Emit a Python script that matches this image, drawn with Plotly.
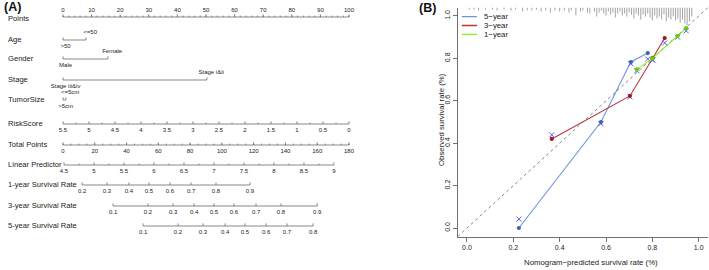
import plotly.graph_objects as go

# ---------------- Panel A : nomogram data ----------------
points_ticks = [0, 10, 20, 30, 40, 50, 60, 70, 80, 90, 100]
points_minor = list(range(0, 101, 2))

age_labels = ["<=50", ">50"]
age_points = [8.0, 0.0]
gender_labels = ["Female", "Male"]
gender_points = [15.7, 0.0]
stage_labels = ["Stage i&ii", "Stage iii&iv"]
stage_points = [50.3, 0.0]
tumor_labels = ["<=5cm", ">5cm"]
tumor_points = [1.0, 0.0]

risk_ticks = [5.5, 5, 4.5, 4, 3.5, 3, 2.5, 2, 1.5, 1, 0.5, 0]
risk_max = 5.5

total_ticks = [0, 20, 40, 60, 80, 100, 120, 140, 160, 180]
total_max = 180

lp_ticks = [4.5, 5, 5.5, 6, 6.5, 7, 7.5, 8, 8.5, 9]
lp_at_zero_total = 4.483
total_per_lp = 37.75

surv1_labels = [0.2, 0.3, 0.4, 0.5, 0.6, 0.7, 0.8, 0.9]
surv1_total = [12.0, 27.7, 41.5, 54.1, 67.3, 80.6, 96.3, 117.7]
surv3_labels = [0.1, 0.2, 0.3, 0.4, 0.5, 0.6, 0.7, 0.8, 0.9]
surv3_total = [31.5, 53.5, 69.3, 82.5, 95.0, 107.6, 121.5, 137.2, 160.0]
surv5_labels = [0.1, 0.2, 0.3, 0.4, 0.5, 0.6, 0.7, 0.8]
surv5_total = [50.4, 72.4, 88.1, 102.0, 114.5, 127.8, 141.0, 157.4]

# ---------------- Panel B : calibration data ----------------
pred_5y = [0.224, 0.578, 0.707, 0.780]
obs_5y = [0.000, 0.500, 0.783, 0.825]
corr_5y = [0.042, 0.492, 0.775, 0.797]
pred_3y = [0.366, 0.703, 0.802, 0.853]
obs_3y = [0.420, 0.623, 0.802, 0.896]
corr_3y = [0.439, 0.618, 0.793, 0.873]
pred_1y = [0.733, 0.800, 0.909, 0.946]
obs_1y = [0.748, 0.800, 0.906, 0.943]
corr_1y = [0.742, 0.792, 0.900, 0.930]

rug_pred = [0.01, 0.03, 0.05, 0.08, 0.11, 0.13, 0.16, 0.19, 0.21, 0.24, 0.26,
            0.28, 0.30, 0.32, 0.34, 0.36, 0.38, 0.40, 0.42, 0.44, 0.45, 0.47,
            0.49, 0.50, 0.52, 0.53, 0.55, 0.56, 0.57, 0.58, 0.59, 0.60, 0.61,
            0.62, 0.63, 0.64, 0.65, 0.66, 0.67, 0.68, 0.69, 0.70, 0.71, 0.72,
            0.73, 0.74, 0.75, 0.76, 0.77, 0.78, 0.79, 0.80, 0.81, 0.82, 0.83,
            0.84, 0.85, 0.86, 0.87, 0.88, 0.89, 0.90, 0.91, 0.92, 0.93, 0.94,
            0.95, 0.96, 0.97]
rug_count = [2, 2, 3, 2, 2, 3, 2, 3, 2, 4, 3, 3, 2, 4, 3, 5, 3, 4, 3, 5, 3, 8,
             4, 3, 5, 6, 4, 9, 5, 3, 6, 8, 4, 7, 5, 10, 6, 4, 8, 6, 9, 5, 7, 11,
             6, 8, 12, 7, 9, 6, 10, 13, 8, 11, 9, 12, 7, 14, 10, 12, 9, 13, 11,
             15, 12, 16, 18, 14, 9]

FONT = "Liberation Sans, Arial, sans-serif"
LINE_C = "#6b6b6b"
TXT_C = "#222222"

fig = go.Figure()

# ---------------- helpers for nomogram ----------------
def tot2pts(t):
    return t * 100.0 / total_max

def add_seg(xs, y0, y1, color=LINE_C, width=0.8):
    X, Y = [], []
    for x in xs:
        X += [x, x, None]
        Y += [y0, y1, None]
    fig.add_trace(go.Scatter(x=X, y=Y, mode="lines", xaxis="x", yaxis="y",
                             line=dict(color=color, width=width),
                             hoverinfo="skip", showlegend=False))

def add_text(xs, ys, texts, size=6):
    fig.add_trace(go.Scatter(x=xs, y=ys, text=texts, mode="text", xaxis="x", yaxis="y",
                             textposition="middle center", cliponaxis=False,
                             textfont=dict(family=FONT, size=size, color=TXT_C),
                             hoverinfo="skip", showlegend=False))

def fmt(v):
    return "%g" % v

def cont_scale(xs, labels, y, above=False, minor=None):
    fig.add_trace(go.Scatter(x=[min(xs), max(xs)], y=[y, y], mode="lines", xaxis="x", yaxis="y",
                             line=dict(color=LINE_C, width=0.8), hoverinfo="skip", showlegend=False))
    add_seg(xs, y, y - 2.6)
    if minor:
        add_seg(minor, y, y - 1.4)
    ly = y - 7 if above else y + 6.5
    add_text(xs, [ly] * len(xs), labels)

def cat_scale(pts, labels, y):
    fig.add_trace(go.Scatter(x=[min(pts), max(pts)], y=[y, y], mode="lines", xaxis="x", yaxis="y",
                             line=dict(color=LINE_C, width=0.8), hoverinfo="skip", showlegend=False))
    add_seg(pts, y, y - 2.6)
    ys = [y - 8 if i == 0 else y + 6.5 for i in range(len(pts))]
    xs = [p + 1.5 if i == 0 else p + 0.9 for i, p in enumerate(pts)]
    add_text(xs, ys, labels)

row_y = {"Points": 17, "Age": 40, "Gender": 59, "Stage": 80, "TumorSize": 100,
         "RiskScore": 124, "Total Points": 145, "Linear Predictor": 165,
         "1-year Survival Rate": 185, "3-year Survival Rate": 206,
         "5-year Survival Rate": 226}

cont_scale(points_ticks, [str(v) for v in points_ticks], row_y["Points"], above=True,
           minor=points_minor)
cat_scale(age_points, age_labels, row_y["Age"])
cat_scale(gender_points, gender_labels, row_y["Gender"])
cat_scale(stage_points, stage_labels, row_y["Stage"])
cat_scale(tumor_points, tumor_labels, row_y["TumorSize"])
risk_x = [(risk_max - v) / risk_max * 100 for v in risk_ticks]
risk_minor = [(risk_max - (v - 0.25)) / risk_max * 100 for v in risk_ticks[:-1]]
cont_scale(risk_x, [fmt(v) for v in risk_ticks], row_y["RiskScore"], minor=risk_minor)
tot_minor = [tot2pts(t) for t in range(0, 181, 5)]
cont_scale([tot2pts(t) for t in total_ticks], [str(t) for t in total_ticks],
           row_y["Total Points"], minor=tot_minor)
lp_x = [tot2pts((v - lp_at_zero_total) * total_per_lp) for v in lp_ticks]
lp_minor = [tot2pts((v + 0.25 - lp_at_zero_total) * total_per_lp) for v in lp_ticks[:-1]]
cont_scale(lp_x, [fmt(v) for v in lp_ticks], row_y["Linear Predictor"], minor=lp_minor)
cont_scale([tot2pts(t) for t in surv1_total], [fmt(v) for v in surv1_labels],
           row_y["1-year Survival Rate"])
cont_scale([tot2pts(t) for t in surv3_total], [fmt(v) for v in surv3_labels],
           row_y["3-year Survival Rate"])
cont_scale([tot2pts(t) for t in surv5_total], [fmt(v) for v in surv5_labels],
           row_y["5-year Survival Rate"])

annotations = []
for name, y in row_y.items():
    annotations.append(dict(x=6 / 709, y=y + (1.2 if name == "Points" else -0.5), xref="paper",
                            yref="y", text=name, showarrow=False, xanchor="left", yanchor="middle",
                            font=dict(family=FONT, size=7.6, color=TXT_C)))

annotations.append(dict(x=2 / 709, y=1 - 7 / 270, xref="paper", yref="paper", text="<b>(A)</b>",
                        showarrow=False, xanchor="left", yanchor="middle",
                        font=dict(family=FONT, size=12.5, color="#111")))
annotations.append(dict(x=417 / 709, y=1 - 8 / 270, xref="paper", yref="paper", text="<b>(B)</b>",
                        showarrow=False, xanchor="left", yanchor="middle",
                        font=dict(family=FONT, size=12.5, color="#111")))

# ---------------- Panel B ----------------
C5, C5D = "#6f93dc", "#3d62b8"
C3, C3D = "#b5383c", "#9e1a22"
C1, C1D = "#84f01c", "#62d000"
CX = "#5a5aff"

fig.add_trace(go.Scatter(x=[-0.04, 1.04], y=[-0.04, 1.04], mode="lines", xaxis="x2", yaxis="y2",
                         line=dict(color="#777777", width=0.9, dash="dot"),
                         hoverinfo="skip", showlegend=False))
RX, RY = [], []
for p, c in zip(rug_pred, rug_count):
    RX += [p, p, None]
    RY += [1.04, 1.04 - c / 212.0, None]
fig.add_trace(go.Scatter(x=RX, y=RY, mode="lines", xaxis="x2", yaxis="y2",
                         line=dict(color="#8c8c8c", width=0.8), hoverinfo="skip",
                         showlegend=False, cliponaxis=False))

for pred, obs, corr, c, cd in [(pred_5y, obs_5y, corr_5y, C5, C5D),
                               (pred_3y, obs_3y, corr_3y, C3, C3D),
                               (pred_1y, obs_1y, corr_1y, C1, C1D)]:
    fig.add_trace(go.Scatter(x=pred, y=obs, mode="lines", xaxis="x2", yaxis="y2",
                             line=dict(color=c, width=1.1), hoverinfo="skip", showlegend=False))
    fig.add_trace(go.Scatter(x=pred, y=corr, mode="markers", xaxis="x2", yaxis="y2",
                             marker=dict(symbol="x-thin", size=5, line=dict(color=CX, width=1)),
                             hoverinfo="skip", showlegend=False))
    fig.add_trace(go.Scatter(x=pred, y=obs, mode="markers", xaxis="x2", yaxis="y2",
                             marker=dict(symbol="circle", size=4.2, color=cd),
                             hoverinfo="skip", showlegend=False))

shapes = []
leg = [("5\u2212year", C5, 0.997), ("3\u2212year", C3, 0.955), ("1\u2212year", C1, 0.913)]
for txt, col, yy in leg:
    shapes.append(dict(type="line", xref="x2", yref="y2", x0=-0.022, x1=0.043, y0=yy, y1=yy,
                       line=dict(color=col, width=1.3)))
    annotations.append(dict(x=0.068, y=yy, xref="x2", yref="y2", text=txt, showarrow=False,
                            xanchor="left", yanchor="middle", borderpad=0,
                            font=dict(family=FONT, size=7.8, color=TXT_C)))

annotations.append(dict(x=591 / 709, y=1 - 262 / 270, xref="paper", yref="paper",
                        text="Nomogram\u2212predicted survival rate (%)", showarrow=False,
                        xanchor="center", yanchor="middle",
                        font=dict(family=FONT, size=7.8, color=TXT_C)))
annotations.append(dict(x=441 / 709, y=1 - 120 / 270, xref="paper", yref="paper",
                        text="Observed survival rate (%)", showarrow=False, textangle=-90,
                        xanchor="center", yanchor="middle",
                        font=dict(family=FONT, size=7.8, color=TXT_C)))

x0_pts, px_per_pt = 63.0, 2.86
xa_r0 = -x0_pts / px_per_pt
xa_r1 = xa_r0 + 354.5 / px_per_pt

ax_style = dict(showline=True, linecolor="#707070", linewidth=1, ticks="outside", ticklen=4,
                tickcolor="#707070", tickwidth=1, showgrid=False, zeroline=False,
                tickfont=dict(family=FONT, size=7, color=TXT_C), tickvals=[0, 0.2, 0.4, 0.6, 0.8, 1.0],
                ticktext=["0.0", "0.2", "0.4", "0.6", "0.8", "1.0"], range=[-0.04, 1.04])

fig.update_layout(
    width=709, height=270, margin=dict(l=0, r=0, t=0, b=0),
    paper_bgcolor="white", plot_bgcolor="white", showlegend=False,
    xaxis=dict(domain=[0, 0.5], range=[xa_r0, xa_r1], visible=False),
    yaxis=dict(domain=[0, 1], range=[270, 0], visible=False),
    xaxis2=dict(domain=[457.7 / 709, 708 / 709], anchor="y2", **ax_style),
    yaxis2=dict(domain=[(270 - 236.5) / 270, (270 - 7.5) / 270], anchor="x2", tickangle=-90,
                **ax_style),
    annotations=annotations, shapes=shapes,
)

fig.write_html("out.html", config={"displayModeBar": False, "staticPlot": True},
               post_script="document.body.style.margin='0';document.body.style.padding='0';"
                           "document.body.style.overflow='hidden';")
